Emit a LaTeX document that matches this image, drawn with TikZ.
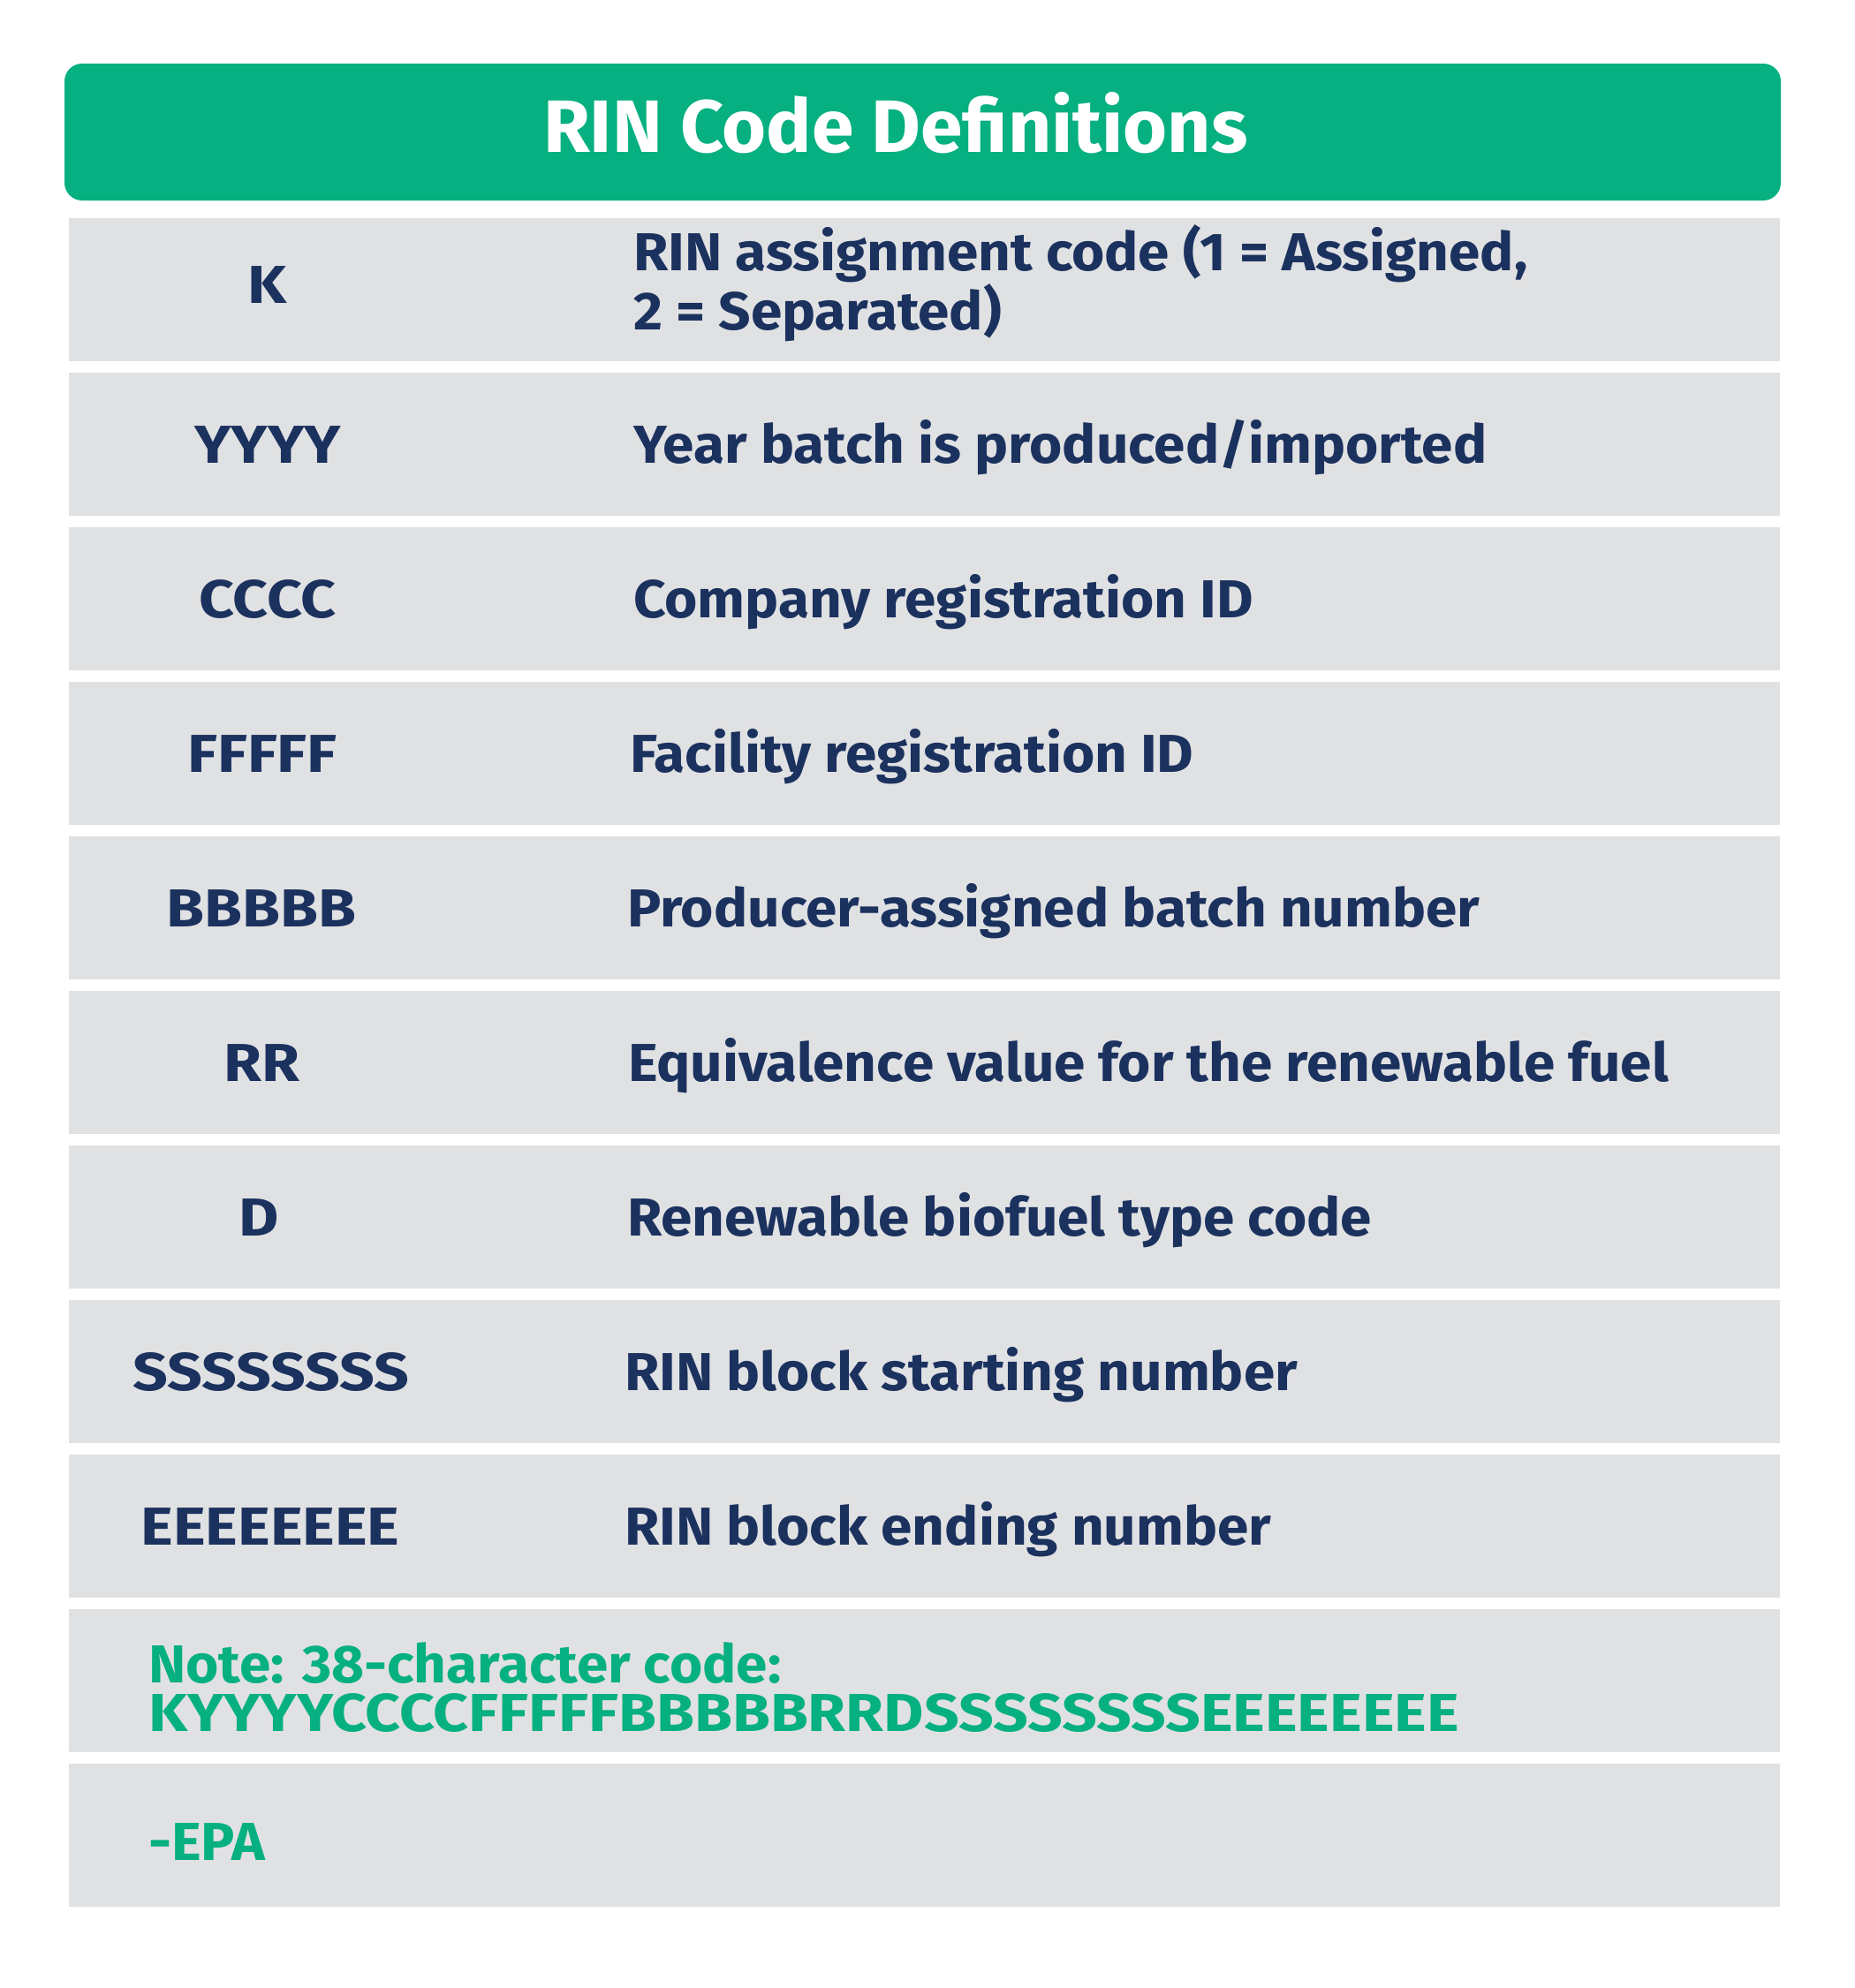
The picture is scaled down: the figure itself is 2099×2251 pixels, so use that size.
\documentclass[tikz,border=0pt]{standalone}
\usepackage{fontspec}
\setmainfont{Fira Sans}[BoldFont={Fira Sans Bold}]
\newfontfamily\bodyfont{Fira Sans Bold}[FakeStretch=1.055]
\newfontfamily\capsfont{Fira Sans Bold}[FakeStretch=1.15]
\newfontfamily\headfont{Fira Sans Bold}[FakeStretch=1.02]
\definecolor{rgreen}{RGB}{6,176,128}
\definecolor{rnavy}{RGB}{27,49,94}
\definecolor{rgray}{RGB}{224,225,227}
\begin{document}
\begin{tikzpicture}[x=1pt,y=-1pt,
  rowbox/.style={fill=rgray,draw=none},
  codetxt/.style={anchor=base,inner sep=0pt,text=rnavy,font=\capsfont\fontsize{60.5}{55}\selectfont},
  deftxt/.style={anchor=base west,inner sep=0pt,text=rnavy,font=\bodyfont\fontsize{60.5}{55}\selectfont,align=left},
  notetxt/.style={anchor=base west,inner sep=0pt,text=rgreen,font=\bodyfont\fontsize{60.5}{55}\selectfont,align=left},
  titletxt/.style={anchor=base,inner sep=0pt,text=white,font=\headfont\fontsize{84}{90}\selectfont}]
\fill[white] (0,0) rectangle (2099,2251);
\useasboundingbox (0,0) rectangle (2099,2251);
% header
\fill[rgreen,rounded corners=20pt] (73,72) rectangle (2016,227);
\node[titletxt] (title) at (1014,172) {RIN Code Definitions};
% rows
\foreach \i in {0,...,10}{
  \fill[rowbox] (78,{247+175*\i}) rectangle (2015,{409+175*\i});
}
% row 1
\node[codetxt] (c1) at (303,343) {K};
\node[deftxt] (d1) at (717,373) {RIN assignment code (1 = Assigned,\\2 = Separated)};
% row 2
\node[codetxt] (c2) at (303,524) {YYYY};
\node[deftxt] (d2) at (717,524) {Year batch is produced/imported};
% row 3
\node[codetxt] (c3) at (303,699) {CCCC};
\node[deftxt] (d3) at (717,699) {Company registration ID};
% row 4
\node[codetxt] (c4) at (297,874) {FFFFF};
\node[deftxt] (d4) at (713,874) {Facility registration ID};
% row 5
\node[codetxt] (c5) at (296,1049) {BBBBB};
\node[deftxt] (d5) at (710,1049) {Producer-assigned batch number};
% row 6
\node[codetxt] (c6) at (296,1224) {RR};
\node[deftxt] (d6) at (711,1224) {Equivalence value for the renewable fuel};
% row 7
\node[codetxt] (c7) at (293,1399) {D};
\node[deftxt] (d7) at (710,1399) {Renewable biofuel type code};
% row 8
\node[codetxt] (c8) at (307,1574) {SSSSSSSS};
\node[deftxt] (d8) at (707,1574) {RIN block starting number};
% row 9
\node[codetxt] (c9) at (306,1749) {EEEEEEEE};
\node[deftxt] (d9) at (707,1749) {RIN block ending number};
% row 10
\node[notetxt] (note) at (168,1960) {Note: 38-character code:\\{\capsfont KYYYYCCCCFFFFFBBBBBRRDSSSSSSSSEEEEEEEE}};
% row 11
\node[notetxt] (epa) at (168,2106) {-EPA};
\end{tikzpicture}
\end{document}
